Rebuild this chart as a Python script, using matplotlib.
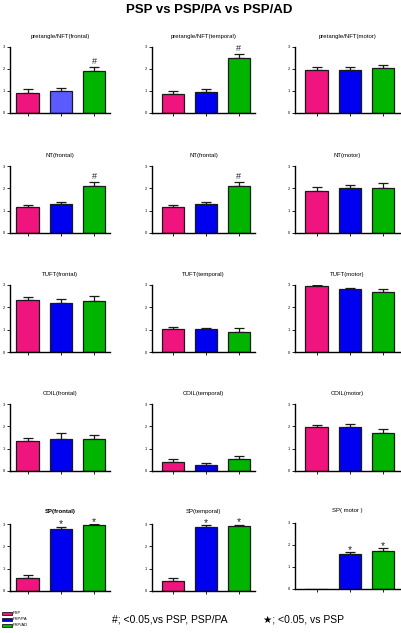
import matplotlib.pyplot as plt

groups = ["PSP", "PSP/PA", "PSP/AD"]
colors = ["#f0147f", "#0000f0", "#00b400"]

titles = [
    ["pretangle/NFT(frontal)", "pretangle/NFT(temporal)", "pretangle/NFT(motor)"],
    ["NT(frontal)", "NT(frontal)", "NT(motor)"],
    ["TUFT(frontal)", "TUFT(temporal)", "TUFT(motor)"],
    ["COIL(frontal)", "COIL(temporal)", "COIL(motor)"],
    ["SP(frontal)", "SP(temporal)", "SP( motor )"],
]

# mean values, one list per panel (PSP, PSP/PA, PSP/AD)
pretangle_means = [[0.91, 1.01, 1.91], [0.87, 0.95, 2.52], [1.96, 1.96, 2.04]]
pretangle_errs = [[0.16, 0.14, 0.16], [0.13, 0.13, 0.15], [0.11, 0.12, 0.16]]
nt_means = [[1.16, 1.29, 2.11], [1.16, 1.29, 2.11], [1.90, 2.01, 2.03]]
nt_errs = [[0.10, 0.11, 0.18], [0.10, 0.11, 0.18], [0.14, 0.16, 0.19]]
tuft_means = [[2.32, 2.20, 2.29], [1.01, 1.01, 0.91], [2.96, 2.82, 2.70]]
tuft_errs = [[0.14, 0.16, 0.22], [0.12, 0.08, 0.15], [0.04, 0.06, 0.12]]
coil_means = [[1.34, 1.45, 1.45], [0.39, 0.28, 0.53], [1.95, 1.95, 1.70]]
coil_errs = [[0.12, 0.24, 0.15], [0.13, 0.10, 0.12], [0.09, 0.15, 0.16]]
sp_means = [[0.57, 2.78, 2.96], [0.47, 2.86, 2.91], [0.0, 1.58, 1.74]]
sp_errs = [[0.16, 0.10, 0.03], [0.13, 0.09, 0.06], [0.0, 0.10, 0.11]]

means = [pretangle_means, nt_means, tuft_means, coil_means, sp_means]
errs = [pretangle_errs, nt_errs, tuft_errs, coil_errs, sp_errs]

# significance marks: (row, col) -> list of (bar index, symbol)
marks = {
    (0, 0): [(2, "#")], (0, 1): [(2, "#")],
    (1, 0): [(2, "#")], (1, 1): [(2, "#")],
    (4, 0): [(1, "*"), (2, "*")], (4, 1): [(1, "*"), (2, "*")],
    (4, 2): [(1, "*"), (2, "*")],
}

W, H = 401, 633
fig = plt.figure(figsize=(W / 100, H / 100), dpi=100)
plt.rcParams['font.family'] = ['Liberation Sans', 'DejaVu Sans']

# pixel layout: axes left edge, right edge per column; top(=3) and base(=0) per row
col_x = [(10, 110), (152, 255), (295, 400)]
col_xlim = [(-0.53, 2.48), (-0.64, 2.5), (-0.65, 2.52)]
row_y = [(47, 113), (166, 233), (285, 352), (404, 471), (524, 591)]

for r in range(5):
    for c in range(3):
        x0, x1 = col_x[c]
        top, base = row_y[r]
        if r == 4 and c == 2:
            top, base = 523, 589
        ax = fig.add_axes([x0 / W, 1 - base / H, (x1 - x0) / W, (base - top) / H])
        m = means[r][c]
        e = errs[r][c]
        bar_cols = list(colors)
        if r == 0 and c == 0:
            bar_cols[1] = "#5a5aff"
        xs = [0, 1, 2]
        ax.bar(xs, m, width=0.67, color=bar_cols, edgecolor="#1a1a1a", linewidth=0.9, zorder=2)
        shown = [i for i in xs if m[i] > 0]
        ax.errorbar(shown, [m[i] for i in shown], yerr=[[0] * len(shown), [e[i] for i in shown]],
                    fmt="none", ecolor="#1a1a1a", elinewidth=0.9, capsize=3.5, capthick=0.9, zorder=1)
        for i, sym in marks.get((r, c), []):
            if sym == "#":
                ax.text(i, m[i] + e[i] + 0.05, sym, ha="center", va="bottom",
                        fontsize=6.5, color="#222222")
            else:
                ax.text(i, m[i] + e[i] - 0.03, sym, ha="center", va="baseline",
                        fontsize=7.5, color="#222222", clip_on=False)
        ax.set_xlim(*col_xlim[c])
        ax.set_ylim(0, 3)
        ax.set_yticks([0, 1, 2, 3])
        ax.set_yticklabels(["0", "1", "2", "3"], fontsize=2.8)
        ax.set_xticks(xs)
        ax.set_xticklabels([])
        ax.tick_params(axis="both", length=2, width=0.6, pad=1.5)
        for s in ["top", "right"]:
            ax.spines[s].set_visible(False)
        for s in ["left", "bottom"]:
            ax.spines[s].set_linewidth(1.0)
        bold = "bold" if (r == 4 and c == 0) else "normal"
        ax.set_title(titles[r][c], fontsize=4.3, pad=8 if r == 4 else 6.5, fontweight=bold)

fig.text(209 / W, 1 - 10 / H, "PSP vs PSP/PA vs PSP/AD", ha="center", va="center",
         fontsize=9.5, fontweight="bold")

# legend
for i, g in enumerate(groups):
    y = 613 + i * 6
    fig.patches.append(plt.Rectangle((2 / W, 1 - (y + 2) / H), 10 / W, 3.5 / H,
                                     transform=fig.transFigure, facecolor=colors[i],
                                     edgecolor="#1a1a1a", linewidth=0.6))
    fig.text(13 / W, 1 - y / H, g, fontsize=3, va="center", ha="left")

fig.text(112 / W, 1 - 620 / H, "#; <0.05,vs PSP, PSP/PA", fontsize=7.5, va="center", ha="left")
fig.text(263 / W, 1 - 620 / H, "\u2605; <0.05, vs PSP", fontsize=7.5, va="center", ha="left")

fig.savefig("out.png", dpi=100)
